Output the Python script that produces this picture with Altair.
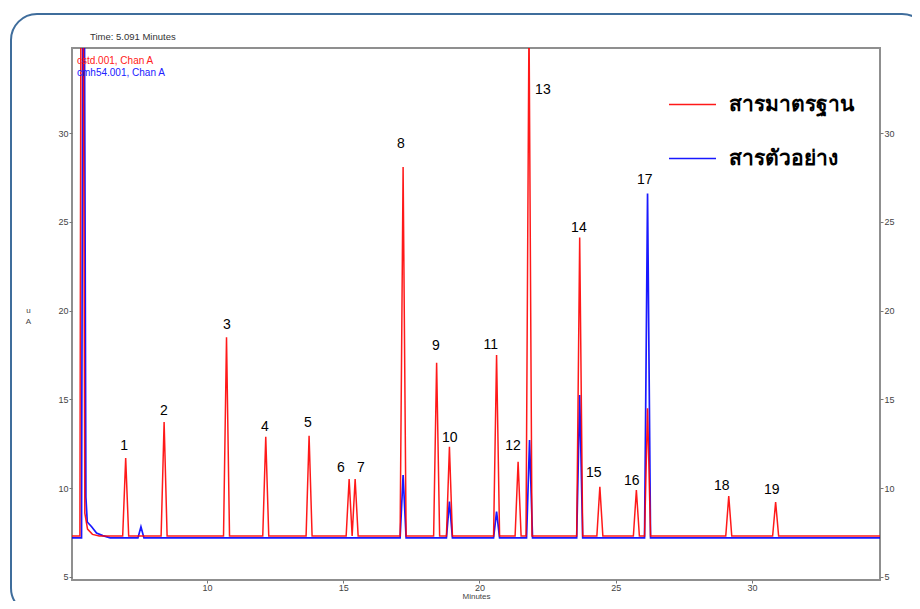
import altair as alt
import pandas as pd

# ---------------- data ----------------
SERIES = ["สารมาตรฐาน", "สารตัวอย่าง"]          # standard (red), sample (blue)
SERIES_COLORS = ["#ff0000", "#0000ff"]

# standard (red) trace
RED_BASE = 7.31
RED_SOLVENT_T = [5.05, 5.34, 5.38, 5.46, 5.52, 5.62, 5.80, 6.05]
RED_SOLVENT_V = [7.31, 7.31, 40.0, 40.0, 8.6, 7.7, 7.4, 7.31]
RED_PEAK_T = [7.02, 8.43, 10.72, 12.16, 13.75, 15.22, 15.44, 17.20, 18.43, 18.90,
              20.63, 21.42, 21.82, 23.68, 24.42, 25.76, 26.17, 29.15, 30.87]
RED_PEAK_V = [11.70, 13.73, 18.51, 12.90, 12.96, 10.52, 10.52, 28.10, 17.07, 12.34,
              17.50, 11.49, 36.5, 24.13, 10.08, 9.90, 14.50, 9.56, 9.22]

# sample (blue) trace
BLUE_BASE = 7.20
BLUE_SOLVENT_T = [5.05, 5.40, 5.45, 5.50, 5.56, 5.61, 5.77, 5.95, 6.18, 6.45]
BLUE_SOLVENT_V = [7.20, 7.20, 40.0, 40.0, 9.5, 8.1, 7.83, 7.48, 7.33, 7.20]
BLUE_PEAK_T = [7.58, 17.20, 18.90, 20.63, 21.84, 23.68, 26.17]
BLUE_PEAK_V = [7.83, 10.74, 9.25, 8.68, 12.71, 15.25, 26.60]

RUN_END = 34.7
PEAK_HALF_WIDTH = 0.11

# peak numbers and where their labels sit (minutes, signal)
PEAK_LABELS = [str(i) for i in range(1, 20)]
LABEL_T = [6.96, 8.42, 10.73, 12.13, 13.71, 14.92, 15.65, 17.12, 18.40, 18.91,
           20.42, 21.23, 22.33, 23.65, 24.20, 25.59, 26.07, 28.89, 30.73]
LABEL_V = [12.38, 14.35, 19.19, 13.45, 13.67, 11.14, 11.14, 29.38, 18.01, 12.83,
           18.06, 12.38, 32.42, 24.65, 10.86, 10.41, 27.35, 10.12, 9.90]

X_DOMAIN = [5.05, 34.7]
Y_DOMAIN = [4.83, 34.8]
X_TICKS = [10, 15, 20, 25, 30]
Y_TICKS = [5, 10, 15, 20, 25, 30]


def trace(solv_t, solv_v, peak_t, peak_v, base, name):
    rows = [(t, v) for t, v in zip(solv_t, solv_v)]
    for t, v in zip(peak_t, peak_v):
        rows += [(t - PEAK_HALF_WIDTH, base), (t, v), (t + PEAK_HALF_WIDTH, base)]
    rows.append((RUN_END, base))
    return pd.DataFrame({"t": [r[0] for r in rows], "v": [r[1] for r in rows], "series": name})


red_df = trace(RED_SOLVENT_T, RED_SOLVENT_V, RED_PEAK_T, RED_PEAK_V, RED_BASE, SERIES[0])
blue_df = trace(BLUE_SOLVENT_T, BLUE_SOLVENT_V, BLUE_PEAK_T, BLUE_PEAK_V, BLUE_BASE, SERIES[1])
label_df = pd.DataFrame({"t": LABEL_T, "v": LABEL_V, "label": PEAK_LABELS})

FONT = "Liberation Sans"

x_enc = alt.X("t:Q", scale=alt.Scale(domain=X_DOMAIN, nice=False, zero=False),
              axis=alt.Axis(values=X_TICKS, title="Minutes", titleFontSize=8, titleColor="#444",
                            titleFontWeight="normal", titleY=20, titleBaseline="bottom",
                            labelFontSize=9, labelColor="#444", tickSize=3, tickColor="#777",
                            labelPadding=0, domain=False, grid=False, format="d"))
y_scale = alt.Scale(domain=Y_DOMAIN, nice=False, zero=False)
y_enc = alt.Y("v:Q", scale=y_scale,
              axis=alt.Axis(orient="left", values=Y_TICKS, title=["u", "A"], titleAngle=0,
                            titleX=-44, titleY=258, titleAlign="center", titleBaseline="top",
                            titleFontSize=8, titleFontWeight="normal", titleColor="#444",
                            titleLineHeight=11, labelFontSize=9, labelColor="#444", tickSize=3,
                            tickColor="#777", labelPadding=1, domain=False, grid=False, format="d"))
y_plain = alt.Y("v:Q", scale=y_scale, axis=None)

color_enc = alt.Color("series:N", scale=alt.Scale(domain=SERIES, range=SERIES_COLORS),
                      legend=alt.Legend(title=None, orient="none", legendX=596, legendY=32,
                                        symbolType="stroke", symbolSize=2209, symbolStrokeWidth=1.5,
                                        labelFontSize=21, labelFontWeight="bold", labelColor="#000",
                                        labelOffset=12, rowPadding=19, padding=0))

frame = alt.Chart(alt.Data(values=[{}])).mark_rect(
    filled=False, stroke="#3f6d9c", strokeWidth=2, cornerRadius=26, clip=False
).encode(x=alt.value(-61), x2=alt.value(856), y=alt.value(-34), y2=alt.value(566))

blue_line = alt.Chart(blue_df).mark_line(strokeWidth=1.7, clip=True, opacity=0.9).encode(
    x=x_enc, y=y_enc, color=color_enc)
red_line = alt.Chart(red_df).mark_line(strokeWidth=1.5, clip=True, opacity=0.9).encode(
    x=x_enc, y=y_plain, color=color_enc)

right_axis = alt.Chart(red_df).mark_point(opacity=0).encode(
    y=alt.Y("v:Q", scale=y_scale,
            axis=alt.Axis(orient="right", values=Y_TICKS, title=None, labelFontSize=9,
                          labelColor="#444", tickSize=3, tickColor="#777", labelPadding=1,
                          domain=False, grid=False, format="d")))

labels = alt.Chart(label_df).mark_text(fontSize=14, font=FONT, color="#000").encode(
    x=alt.X("t:Q"), y=alt.Y("v:Q", axis=None), text="label:N")

info = alt.Chart(alt.Data(values=[{"txt": "Time:  5.091 Minutes"}])).mark_text(
    fontSize=9.5, font=FONT, align="left", baseline="middle", clip=False, color="#333"
).encode(x=alt.value(18), y=alt.value(-11), text="txt:N")

chan_red = alt.Chart(alt.Data(values=[{"txt": "cstd.001, Chan A"}])).mark_text(
    fontSize=10, font=FONT, align="left", baseline="middle", color="#ff2020").encode(
    x=alt.value(5), y=alt.value(13), text="txt:N")
chan_blue = alt.Chart(alt.Data(values=[{"txt": "cmh54.001, Chan A"}])).mark_text(
    fontSize=10, font=FONT, align="left", baseline="middle", color="#2020ff").encode(
    x=alt.value(5), y=alt.value(25), text="txt:N")

chart = alt.layer(frame, blue_line, red_line, right_axis, labels, info, chan_red, chan_blue).resolve_scale(
    y="shared"
).resolve_axis(y="independent").properties(
    width=808, height=532,
    padding={"left": 64, "top": 40, "right": 32, "bottom": 21},
    autosize=alt.AutoSizeParams(type="none"),
).configure(font=FONT).configure_view(stroke="#8f8f8f", strokeWidth=2)

chart.save("out.html", embed_options={"renderer": "svg", "actions": False})
